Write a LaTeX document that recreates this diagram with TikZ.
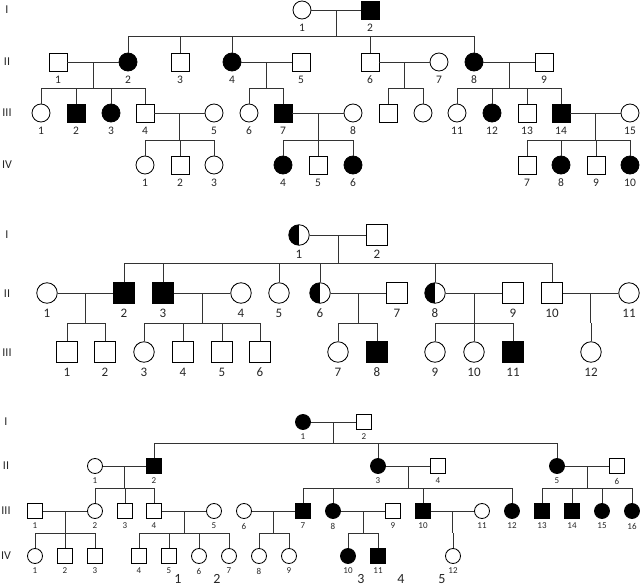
\documentclass[tikz,border=0pt]{standalone}
\usepackage{fontspec}
\setmainfont{Carlito}
\usetikzlibrary{calc}
\tikzset{
  ln/.style={line width=0.85pt, draw=black!80},
  pbase/.style={draw=black, line width=0.85pt, inner sep=0pt, fill=white},
  pm/.style={pbase, rectangle},
  pf/.style={pbase, circle},
  pM/.style={pbase, rectangle, fill=black},
  pF/.style={pbase, circle, fill=black},
  pH/.style={pbase, circle, path picture={\fill[black] (path picture bounding box.south west) rectangle (path picture bounding box.north);}},
  rom/.style={font=\fontsize{12}{12}\selectfont, text=black!85},
  laba/.style={font=\fontsize{11.5}{11.5}\selectfont, text=black!85},
  labb/.style={font=\fontsize{13}{13}\selectfont, text=black!85},
  labc/.style={font=\fontsize{9}{9}\selectfont, text=black!85},
  labd/.style={font=\fontsize{14}{14}\selectfont, text=black!85},
}
% person macros: name, x, y, style, label
\newcommand{\Pa}[5]{\node[#4, minimum size=18pt] (#1) at (#2,#3) {}; \node[laba] (#1l) at ([yshift=-18pt]#1.center) {#5};}
\newcommand{\Pb}[5]{\node[#4, minimum size=20.5pt] (#1) at (#2,#3) {}; \node[labb] (#1l) at ([yshift=-20pt]#1.center) {#5};}
\newcommand{\Pc}[5]{\node[#4, minimum size=15pt] (#1) at (#2,#3) {}; \node[labc] (#1l) at ([yshift=-15pt]#1.center) {#5};}
% family: name, parent1, parent2, sibship y, leftmost child, rightmost child
\newcommand{\Fam}[6]{%
  \draw[ln] (#2) -- (#3);
  \coordinate (#1m) at ($(#2)!0.5!(#3)$);
  \coordinate (#1s) at (#1m |- 0,#4);
  \draw[ln] (#1m) -- (#1s);
  \draw[ln] (#1s -| #5) -- (#1s -| #6);
}
\newcommand{\Kids}[2]{\foreach \k in {#2} {\draw[ln] (\k) -- (\k |- #1s);}}
\begin{document}
\begin{tikzpicture}[x=1pt, y=-1pt]
\useasboundingbox (0,0) rectangle (640,587);
\fill[white] (0,0) rectangle (640,587);

% ================= Panel 1 =================
\node[rom] (ra1) at (7,10) {I};
\node[rom] (ra2) at (7,62) {II};
\node[rom] (ra3) at (7,113) {III};
\node[rom] (ra4) at (7,165) {IV};

\Pa{aI1}{302}{10}{pf}{1}
\Pa{aI2}{370}{10}{pM}{2}

\Pa{aII1}{58}{62}{pm}{1}
\Pa{aII2}{128}{62}{pF}{2}
\Pa{aII3}{180}{62}{pm}{3}
\Pa{aII4}{232}{62}{pF}{4}
\Pa{aII5}{301}{62}{pm}{5}
\Pa{aII6}{370}{62}{pm}{6}
\Pa{aII7}{439}{62}{pf}{7}
\Pa{aII8}{474}{62}{pF}{8}
\Pa{aII9}{544}{62}{pm}{9}

\Pa{aIII1}{41}{113}{pf}{1}
\Pa{aIII2}{76}{113}{pM}{2}
\Pa{aIII3}{111}{113}{pF}{3}
\Pa{aIII4}{145}{113}{pm}{4}
\Pa{aIII5}{214}{113}{pf}{5}
\Pa{aIII6}{249}{113}{pf}{6}
\Pa{aIII7}{283}{113}{pM}{7}
\Pa{aIII8}{353}{113}{pf}{8}
\Pa{aIIIa}{388}{113}{pm}{}
\Pa{aIIIb}{423}{113}{pf}{}
\Pa{aIII11}{457}{113}{pf}{11}
\Pa{aIII12}{492}{113}{pF}{12}
\Pa{aIII13}{527}{113}{pm}{13}
\Pa{aIII14}{561}{113}{pM}{14}
\Pa{aIII15}{630}{113}{pf}{15}

\Pa{aIV1}{145}{165}{pf}{1}
\Pa{aIV2}{180}{165}{pm}{2}
\Pa{aIV3}{214}{165}{pf}{3}
\Pa{aIV4}{283}{165}{pF}{4}
\Pa{aIV5}{318}{165}{pm}{5}
\Pa{aIV6}{353}{165}{pF}{6}
\Pa{aIV7}{527}{165}{pm}{7}
\Pa{aIV8}{561}{165}{pF}{8}
\Pa{aIV9}{596}{165}{pm}{9}
\Pa{aIV10}{630}{165}{pF}{10}

\Fam{fa1}{aI1}{aI2}{36}{aII2}{aII8}
\Kids{fa1}{aII2,aII3,aII4,aII6,aII8}
\Fam{fa2}{aII1}{aII2}{88}{aIII1}{aIII4}
\Kids{fa2}{aIII1,aIII2,aIII3,aIII4}
\Fam{fa3}{aII4}{aII5}{88}{aIII6}{aIII7}
\Kids{fa3}{aIII6,aIII7}
\Fam{fa4}{aII6}{aII7}{88}{aIIIa}{aIIIb}
\Kids{fa4}{aIIIa,aIIIb}
\Fam{fa5}{aII8}{aII9}{88}{aIII11}{aIII14}
\Kids{fa5}{aIII11,aIII12,aIII13,aIII14}
\Fam{fa6}{aIII4}{aIII5}{140}{aIV1}{aIV3}
\Kids{fa6}{aIV1,aIV2,aIV3}
\Fam{fa7}{aIII7}{aIII8}{140}{aIV4}{aIV6}
\Kids{fa7}{aIV4,aIV5,aIV6}
\Fam{fa8}{aIII14}{aIII15}{140}{aIV7}{aIV10}
\Kids{fa8}{aIV7,aIV8,aIV9,aIV10}

% ================= Panel 2 =================
\node[rom] (rb1) at (7,235) {I};
\node[rom] (rb2) at (7,294) {II};
\node[rom] (rb3) at (7,353) {III};

\node[pH, minimum size=20.5pt] (bI1) at (299,235) {};
\node[labb] (bI1l) at ([yshift=-19pt]bI1.center) {1};
\node[pm, minimum size=20.5pt] (bI2) at (377,235) {};
\node[labb] (bI2l) at ([yshift=-19pt]bI2.center) {2};

\Pb{bII1}{47}{293}{pf}{1}
\Pb{bII2}{124}{293}{pM}{2}
\Pb{bII3}{163}{293}{pM}{3}
\Pb{bII4}{241}{293}{pf}{4}
\Pb{bII5}{279}{293}{pf}{5}
\Pb{bII6}{320}{293}{pH}{6}
\Pb{bII7}{397}{293}{pm}{7}
\Pb{bII8}{435}{293}{pH}{8}
\Pb{bII9}{513}{293}{pm}{9}
\Pb{bII10}{552}{293}{pm}{10}
\Pb{bII11}{629}{293}{pf}{11}

\Pb{bIII1}{67}{352}{pm}{1}
\Pb{bIII2}{105}{352}{pm}{2}
\Pb{bIII3}{144}{352}{pf}{3}
\Pb{bIII4}{183}{352}{pm}{4}
\Pb{bIII5}{222}{352}{pm}{5}
\Pb{bIII6}{260}{352}{pm}{6}
\Pb{bIII7}{338}{352}{pf}{7}
\Pb{bIII8}{377}{352}{pM}{8}
\Pb{bIII9}{435}{352}{pf}{9}
\Pb{bIII10}{474}{352}{pf}{10}
\Pb{bIII11}{513}{352}{pM}{11}
\Pb{bIII12}{591}{352}{pf}{12}

\Fam{fb1}{bI1}{bI2}{263}{bII2}{bII10}
\Kids{fb1}{bII2,bII3,bII5,bII6,bII8,bII10}
\Fam{fb2}{bII1}{bII2}{323}{bIII1}{bIII2}
\Kids{fb2}{bIII1,bIII2}
\Fam{fb3}{bII3}{bII4}{323}{bIII3}{bIII6}
\Kids{fb3}{bIII3,bIII4,bIII5,bIII6}
\Fam{fb4}{bII6}{bII7}{323}{bIII7}{bIII8}
\Kids{fb4}{bIII7,bIII8}
\Fam{fb5}{bII8}{bII9}{323}{bIII9}{bIII11}
\Kids{fb5}{bIII9,bIII10,bIII11}
\Fam{fb6}{bII10}{bII11}{323}{bIII12}{bIII12}
\Kids{fb6}{bIII12}

% ================= Panel 3 =================
\node[rom] (rc1) at (6,422) {I};
\node[rom] (rc2) at (6,466) {II};
\node[rom] (rc3) at (6,511) {III};
\node[rom] (rc4) at (6,556) {IV};

\Pc{cI1}{303}{422}{pF}{1}
\Pc{cI2}{364}{422}{pm}{2}

\Pc{cII1}{95}{466}{pf}{1}
\Pc{cII2}{154}{466}{pM}{2}
\Pc{cII3}{378}{466}{pF}{3}
\Pc{cII4}{438}{466}{pm}{4}
\Pc{cII5}{557}{466}{pF}{5}
\Pc{cII6}{617}{466}{pm}{6}

\Pc{cIII1}{35}{511}{pm}{1}
\Pc{cIII2}{95}{511}{pf}{2}
\Pc{cIII3}{125}{511}{pm}{3}
\Pc{cIII4}{154}{511}{pm}{4}
\Pc{cIII5}{214}{511}{pf}{5}
\Pc{cIII6}{244}{511}{pf}{6}
\Pc{cIII7}{303}{511}{pM}{7}
\Pc{cIII8}{333}{511}{pF}{8}
\Pc{cIII9}{393}{511}{pm}{9}
\Pc{cIII10}{423}{511}{pM}{10}
\Pc{cIII11}{482}{511}{pf}{11}
\Pc{cIII12}{512}{511}{pF}{12}
\Pc{cIII13}{542}{511}{pM}{13}
\Pc{cIII14}{572}{511}{pM}{14}
\Pc{cIII15}{602}{511}{pF}{15}
\Pc{cIII16}{632}{511}{pF}{16}

\Pc{cIV1}{35}{556}{pf}{1}
\Pc{cIV2}{65}{556}{pm}{2}
\Pc{cIV3}{95}{556}{pm}{3}
\Pc{cIV4}{139}{556}{pm}{4}
\Pc{cIV5}{169}{556}{pm}{5}
\Pc{cIV6}{199}{556}{pf}{6}
\Pc{cIV7}{229}{556}{pf}{7}
\Pc{cIV8}{259}{556}{pf}{8}
\Pc{cIV9}{289}{556}{pf}{9}
\Pc{cIV10}{348}{556}{pF}{10}
\Pc{cIV11}{378}{556}{pM}{11}
\Pc{cIV12}{453}{556}{pf}{12}

\Fam{fc1}{cI1}{cI2}{443}{cII2}{cII5}
\Kids{fc1}{cII2,cII3,cII5}
\Fam{fc2}{cII1}{cII2}{488}{cIII2}{cIII4}
\Kids{fc2}{cIII2,cIII3,cIII4}
\Fam{fc3}{cII3}{cII4}{488}{cIII7}{cIII12}
\Kids{fc3}{cIII7,cIII8,cIII10,cIII12}
\Fam{fc4}{cII5}{cII6}{488}{cIII13}{cIII16}
\Kids{fc4}{cIII13,cIII14,cIII15,cIII16}
\Fam{fc5}{cIII1}{cIII2}{533}{cIV1}{cIV3}
\Kids{fc5}{cIV1,cIV2,cIV3}
\Fam{fc6}{cIII4}{cIII5}{533}{cIV4}{cIV7}
\Kids{fc6}{cIV4,cIV5,cIV6,cIV7}
\Fam{fc7}{cIII6}{cIII7}{533}{cIV8}{cIV9}
\Kids{fc7}{cIV8,cIV9}
\Fam{fc8}{cIII8}{cIII9}{533}{cIV10}{cIV11}
\Kids{fc8}{cIV10,cIV11}
\Fam{fc9}{cIII10}{cIII11}{533}{cIV12}{cIV12}
\Kids{fc9}{cIV12}

% bottom numbers
\node[labd] (n1) at (178,579) {1};
\node[labd] (n2) at (217,579) {2};
\node[labd] (n3) at (361,579) {3};
\node[labd] (n4) at (401,579) {4};
\node[labd] (n5) at (442,579) {5};
\end{tikzpicture}
\end{document}
